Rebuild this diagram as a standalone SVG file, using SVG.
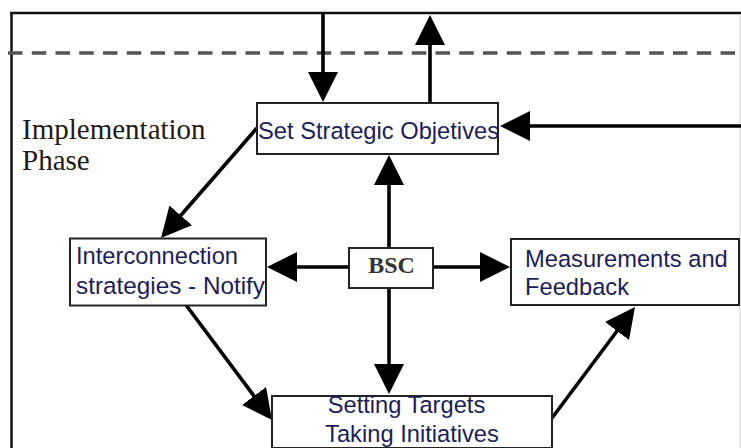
<svg xmlns="http://www.w3.org/2000/svg" width="741" height="448" viewBox="0 0 741 448">
<style>
.box{fill:#fff;stroke:#222;stroke-width:2}
.lbl{font-family:"Liberation Sans",Arial,sans-serif;font-size:23.7px;fill:#1e1e55}
.ser{font-family:"Liberation Serif","Times New Roman",serif;font-size:29px;fill:#231a14}
.bsc{font-family:"Liberation Serif","Times New Roman",serif;font-size:24px;font-weight:bold;fill:#333}
.con{stroke:#000;stroke-width:3.6;fill:none;marker-end:url(#ah)}
</style>
<defs>
<marker id="ah" markerUnits="userSpaceOnUse" markerWidth="30" markerHeight="30" viewBox="0 0 30 30" refX="20" refY="15" orient="auto">
<path d="M0,0 L30,15 L0,30 z" fill="#000"/>
</marker>
</defs>
<rect width="741" height="448" fill="#fff"/>
<g id="frame">
<line x1="10" y1="13" x2="741" y2="13" stroke="#111" stroke-width="2.5"/>
<line x1="11.5" y1="12" x2="11.5" y2="448" stroke="#111" stroke-width="2.5"/>
<line x1="740" y1="14" x2="740" y2="448" stroke="#ccc" stroke-width="1"/>
<line x1="8" y1="53" x2="741" y2="53" stroke="#555" stroke-width="3.5" stroke-dasharray="14.5 9.25"/>
</g>
<g id="phase-label">
<text class="ser" x="22" y="139">Implementation</text>
<text class="ser" x="22" y="170">Phase</text>
</g>
<g id="connectors">
<line class="con" x1="323" y1="13" x2="323" y2="92"/>
<line class="con" x1="430" y1="103" x2="430" y2="25"/>
<line class="con" x1="741" y1="126" x2="510" y2="126"/>
<line class="con" x1="389" y1="247" x2="389" y2="165"/>
<line class="con" x1="349" y1="267" x2="277" y2="267"/>
<line class="con" x1="433" y1="267" x2="500" y2="267"/>
<line class="con" x1="389" y1="288" x2="389" y2="384"/>
<line class="con" x1="257" y1="128" x2="167.6" y2="230.5"/>
<line class="con" x1="186" y1="305" x2="266" y2="412"/>
<line class="con" x1="552" y1="418" x2="629" y2="315"/>
</g>
<g id="set-objectives">
<rect class="box" x="257" y="103" width="241" height="51"/>
<text class="lbl" x="258" y="139" textLength="241" lengthAdjust="spacingAndGlyphs">Set Strategic Objetives</text>
</g>
<g id="interconnection">
<rect class="box" x="70" y="238.5" width="196" height="67"/>
<text class="lbl" x="76" y="264" textLength="162" lengthAdjust="spacingAndGlyphs">Interconnection</text>
<text class="lbl" x="76" y="294" textLength="189" lengthAdjust="spacingAndGlyphs">strategies - Notify</text>
</g>
<g id="bsc">
<rect class="box" x="349" y="248" width="84" height="40"/>
<text class="bsc" x="391.5" y="273" text-anchor="middle">BSC</text>
</g>
<g id="measurements">
<rect class="box" x="511" y="239" width="228" height="66"/>
<text class="lbl" x="525" y="267">Measurements and</text>
<text class="lbl" x="525" y="295">Feedback</text>
</g>
<g id="targets">
<rect class="box" x="272" y="396" width="280" height="52"/>
<text class="lbl" x="406.5" y="413" text-anchor="middle">Setting Targets</text>
<text class="lbl" x="412" y="442" text-anchor="middle">Taking Initiatives</text>
</g>
</svg>
